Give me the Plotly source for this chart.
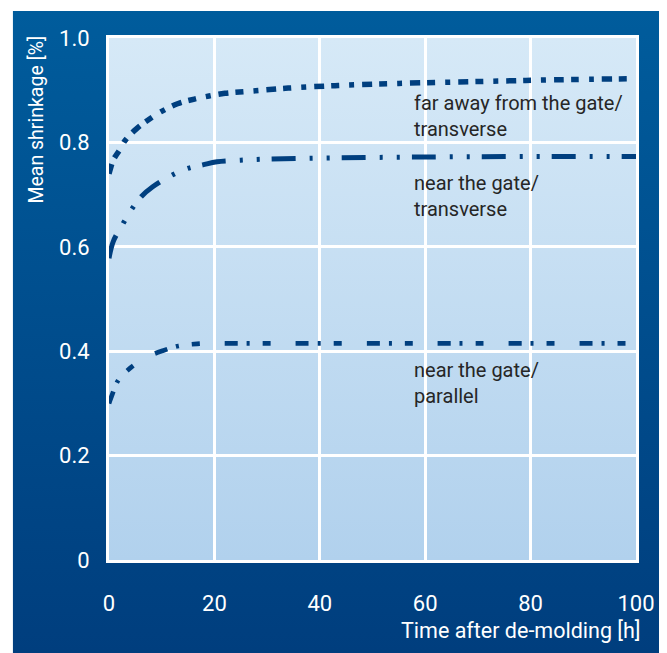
import base64
import plotly.graph_objects as go

# ---- data ----
t_far = [0, 0.2, 0.8, 2.1, 3.0, 5.2, 7.7, 9.9, 13.0, 16.2, 19.0, 22.0, 27.8, 34.0, 43.5, 55.0, 71.8, 85.0, 100.0]
y_far = [0.740, 0.747, 0.766, 0.787, 0.803, 0.826, 0.845, 0.859, 0.874, 0.883, 0.889, 0.894, 0.899, 0.904, 0.909, 0.913, 0.917, 0.920, 0.922]

t_near_tr = [0, 0.8, 2.7, 4.3, 6.1, 8.3, 12.1, 14.9, 17.8, 20.5, 25.0, 30.0, 40.0, 60.0, 80.0, 100.0]
y_near_tr = [0.578, 0.610, 0.645, 0.672, 0.696, 0.715, 0.738, 0.750, 0.757, 0.763, 0.766, 0.768, 0.770, 0.772, 0.773, 0.773]

t_near_par = [0, 0.5, 1.8, 4.3, 7.0, 10.2, 13.2, 16.7, 20.0, 30.0, 50.0, 70.0, 100.0]
y_near_par = [0.300, 0.314, 0.345, 0.370, 0.388, 0.401, 0.410, 0.414, 0.415, 0.415, 0.415, 0.415, 0.415]

x_ticks = [0, 20, 40, 60, 80, 100]
y_ticks = [0, 0.2, 0.4, 0.6, 0.8, 1.0]
y_tick_labels = ["0", "0.2", "0.4", "0.6", "0.8", "1.0"]

labels = ["far away from the gate/<br>transverse", "near the gate/<br>transverse", "near the gate/<br>parallel"]
label_y = [0.851, 0.698, 0.339]

x_title = "Time after de-molding [h]"
y_title = "Mean shrinkage [%]"

# ---- styling ----
LINE = "#003f7f"
FONT = "Roboto"
OFF = 8  # page body margin
SW, SH = 667, 653  # window size
W, H = SW - OFF, SH - OFF
# plot area in screen pixels: x 109..640, y 38..560
L, R, T, B = 109 - OFF, SW - 640, 38 - OFF, SH - 560
pw, ph = W - L - R, H - T - B


def grad(c1, c2):
    svg = ("<svg xmlns='http://www.w3.org/2000/svg' width='100' height='100' preserveAspectRatio='none'>"
           "<defs><linearGradient id='g' x1='0' y1='0' x2='0' y2='1'>"
           f"<stop offset='0' stop-color='{c1}'/><stop offset='1' stop-color='{c2}'/>"
           "</linearGradient></defs><rect width='100' height='100' fill='url(#g)'/></svg>")
    return "data:image/svg+xml;base64," + base64.b64encode(svg.encode()).decode()


def px_x(p):  # screen px -> paper
    return (p - OFF - L) / pw


def px_y(p):
    return (T + ph - (p - OFF)) / ph


fig = go.Figure()
fig.add_trace(go.Scatter(x=t_far, y=y_far, mode="lines", line=dict(color=LINE, width=5.5, shape="spline",
                                                                     dash="10px,7px,8px,10px,5px,8px")))
fig.add_trace(go.Scatter(x=t_near_tr, y=y_near_tr, mode="lines", line=dict(color=LINE, width=5, shape="spline",
                                                                             dash="24px,14px,3px,14px,3px,12px")))
fig.add_trace(go.Scatter(x=t_near_par, y=y_near_par, mode="lines", line=dict(color=LINE, width=4.7, shape="spline",
                                                                               dash="13px,9px,3px,13px,8px,25px")))

images = [
    dict(source=grad("#005c9c", "#003e7e"), xref="paper", yref="paper",
         x=px_x(12), y=px_y(11), sizex=px_x(SW) - px_x(12), sizey=px_y(11) - px_y(SH),
         sizing="stretch", layer="below", xanchor="left", yanchor="top"),
    dict(source=grad("#d6e9f7", "#b1d1ed"), xref="paper", yref="paper",
         x=0, y=1, sizex=1, sizey=1, sizing="stretch", layer="below", xanchor="left", yanchor="top"),
]

annotations = []
for txt, yv in zip(labels, label_y):
    annotations.append(dict(x=57.4, y=yv, xref="x", yref="y", text=txt, showarrow=False,
                            xanchor="left", yanchor="middle", align="left",
                            font=dict(family=FONT, size=20, color="#262626")))
annotations.append(dict(x=px_x(647), y=px_y(630), xref="paper", yref="paper", text=x_title, showarrow=False,
                        xanchor="right", yanchor="middle", font=dict(family=FONT, size=21.5, color="white")))
annotations.append(dict(x=px_x(36), y=px_y(34), xref="paper", yref="paper", text=y_title, showarrow=False,
                        textangle=-90, xanchor="center", yanchor="top", font=dict(family=FONT, size=19.5, color="white")))

axis_common = dict(showgrid=True, gridcolor="white", gridwidth=3, zeroline=False, showline=True, mirror=True,
                   linecolor="white", linewidth=3, ticks="", tickfont=dict(family=FONT, size=22, color="white"))

fig.update_layout(
    width=W, height=H, margin=dict(l=L, r=R, t=T, b=B),
    paper_bgcolor="white", plot_bgcolor="rgba(0,0,0,0)",
    showlegend=False,
    images=images, annotations=annotations,
    xaxis=dict(range=[0, 100], tickvals=x_ticks, ticktext=[str(v) for v in x_ticks],
               ticklabelstandoff=22, **axis_common),
    yaxis=dict(range=[0, 1.0], tickvals=y_ticks, ticktext=y_tick_labels, ticklabelstandoff=12, **axis_common),
)

fig.write_html("out.html")
